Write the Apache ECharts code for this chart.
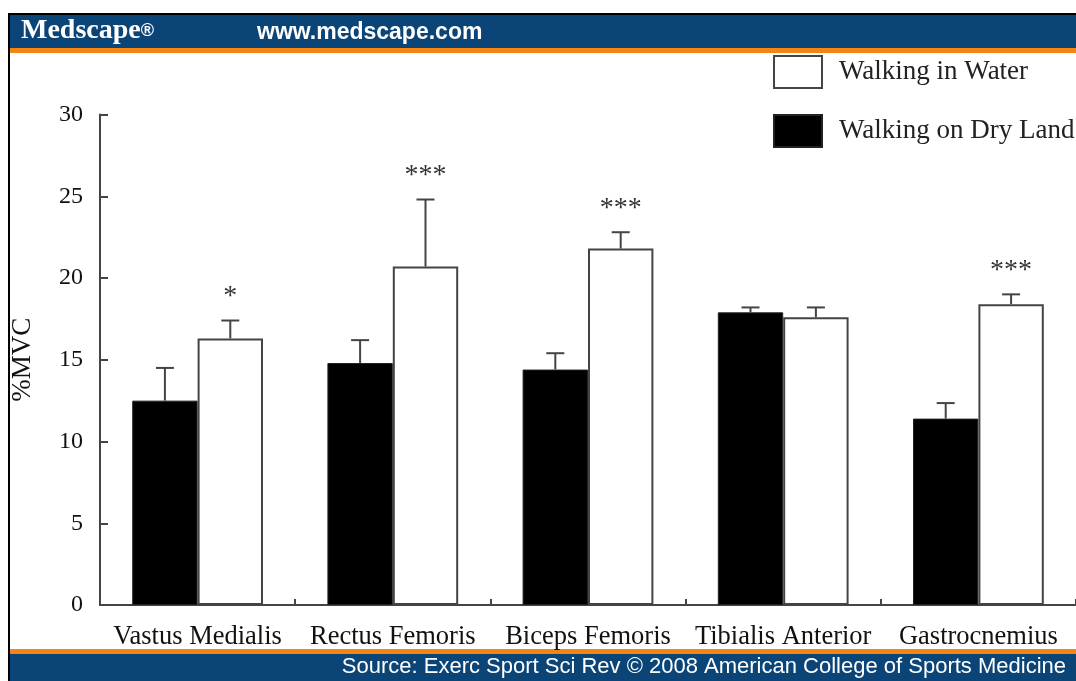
<!DOCTYPE html>
<html>
<head>
<meta charset="utf-8">
<script src="https://cdn.jsdelivr.net/npm/echarts@6/dist/echarts.min.js"></script>
<style>
  html, body { margin: 0; padding: 0; background: #fff; }
  #main { width: 1076px; height: 681px; }
</style>
</head>
<body>
<div id="main"></div>
<script>
// muscles on the x axis
var categories = ['Vastus Medialis', 'Rectus Femoris', 'Biceps Femoris', 'Tibialis Anterior', 'Gastrocnemius'];

// %MVC means and the top of each error bar
var dryLand = [12.5, 14.8, 14.4, 17.9, 11.4];
var dryLandErr = [14.5, 16.2, 15.4, 18.2, 12.35];
var water = [16.3, 20.7, 21.8, 17.6, 18.4];
var waterErr = [17.4, 24.8, 22.8, 18.2, 19.0];

// significance marks above the water bars
var stars = ['*', '***', '***', '', '***'];

var serif = '"Liberation Serif", "Times New Roman", serif';
var sans = '"Liberation Sans", Arial, sans-serif';
var axisColor = '#444';

// rows for the error bar series: [category, bar value, error top, side, mark]
var errData = [];
categories.forEach(function (c, i) {
    errData.push([i, dryLand[i], dryLandErr[i], -1, '']);
    errData.push([i, water[i], waterErr[i], 1, stars[i]]);
});

function renderError(params, api) {
    var idx = api.value(0);
    var side = api.value(3);
    var band = api.size([1, 0])[0];
    var off = side * band * 0.1675;
    var p0 = api.coord([idx, api.value(1)]);
    var p1 = api.coord([idx, api.value(2)]);
    var x = p0[0] + off;
    var lineStyle = { stroke: axisColor, lineWidth: 2 };
    var children = [
        { type: 'line', shape: { x1: x, y1: p0[1], x2: x, y2: p1[1] }, style: lineStyle },
        { type: 'line', shape: { x1: x - 9, y1: p1[1], x2: x + 9, y2: p1[1] }, style: lineStyle }
    ];
    var mark = errData[params.dataIndex][4];
    if (mark) {
        children.push({
            type: 'text',
            style: {
                text: mark, x: x, y: p1[1] - 24,
                align: 'center', verticalAlign: 'middle',
                font: '28px ' + serif, fill: '#333'
            }
        });
    }
    return { type: 'group', children: children };
}

var option = {
    backgroundColor: '#fff',
    animation: false,
    graphic: [
        // frame and header / footer bands
        { type: 'rect', shape: { x: 8, y: 13, width: 1068, height: 2 }, style: { fill: '#000' } },
        { type: 'rect', shape: { x: 8, y: 13, width: 2, height: 668 }, style: { fill: '#000' } },
        { type: 'rect', shape: { x: 10, y: 15, width: 1066, height: 33 }, style: { fill: '#0b4577' } },
        { type: 'rect', shape: { x: 10, y: 48, width: 1066, height: 5 }, style: { fill: '#f58512' } },
        { type: 'rect', shape: { x: 10, y: 649, width: 1066, height: 5 }, style: { fill: '#f58512' } },
        { type: 'rect', shape: { x: 10, y: 654, width: 1066, height: 27 }, style: { fill: '#0b4577' } },
        {
            type: 'text', left: 21, top: 17,
            style: {
                text: '{m|Medscape}{r|®}',
                rich: {
                    m: { font: 'bold 28px ' + serif, fill: '#fff', color: '#fff' },
                    r: { font: 'bold 18px ' + sans, fill: '#fff', color: '#fff' }
                }
            }
        },
        {
            type: 'text', left: 257, top: 21,
            style: { text: 'www.medscape.com', font: 'bold 23px ' + sans, fill: '#fff' }
        },
        {
            type: 'text', right: 10, top: 656,
            style: { text: 'Source: Exerc Sport Sci Rev \u00a9 2008 American College of Sports Medicine', font: '22px ' + sans, fill: '#fff' }
        }
    ],
    legend: {
        orient: 'vertical',
        left: 773,
        top: 55,
        padding: 0,
        icon: 'rect',
        itemWidth: 48,
        itemHeight: 32,
        itemGap: 25,
        data: ['Walking in Water', 'Walking on Dry Land'],
        textStyle: { fontFamily: serif, fontSize: 27, color: '#222', padding: [0, 0, 0, 12] }
    },
    grid: {
        left: 100,
        top: 114.5,
        width: 978,
        bottom: 76
    },
    xAxis: {
        type: 'category',
        data: categories,
        axisLine: { lineStyle: { color: axisColor, width: 2 } },
        axisTick: { show: true, inside: true, interval: 0, length: 6, lineStyle: { color: axisColor, width: 2 } },
        axisLabel: { interval: 0, fontFamily: serif, fontSize: 26.5, color: '#111', margin: 19 }
    },
    yAxis: {
        type: 'value',
        min: 0,
        max: 30,
        interval: 5,
        name: '%MVC',
        nameLocation: 'middle',
        nameRotate: 90,
        nameGap: 64,
        nameTextStyle: { fontFamily: serif, fontSize: 27, color: '#111' },
        splitLine: { show: false },
        axisLine: { show: true, lineStyle: { color: axisColor, width: 2 } },
        axisTick: { show: true, inside: true, length: 8, lineStyle: { color: axisColor, width: 2 } },
        axisLabel: { fontFamily: serif, fontSize: 24, color: '#111', margin: 17 }
    },
    series: [
        {
            name: 'Walking on Dry Land',
            type: 'bar',
            data: dryLand,
            barGap: '0%',
            barCategoryGap: '33%',
            itemStyle: { color: '#000', borderColor: '#222', borderWidth: 1 }
        },
        {
            name: 'Walking in Water',
            type: 'bar',
            data: water,
            itemStyle: { color: '#fff', borderColor: axisColor, borderWidth: 2 }
        },
        {
            type: 'custom',
            renderItem: renderError,
            data: errData,
            z: 3,
            silent: true
        }
    ]
};

var myChart = echarts.init(document.getElementById('main'));
myChart.setOption(option);
</script>
</body>
</html>
